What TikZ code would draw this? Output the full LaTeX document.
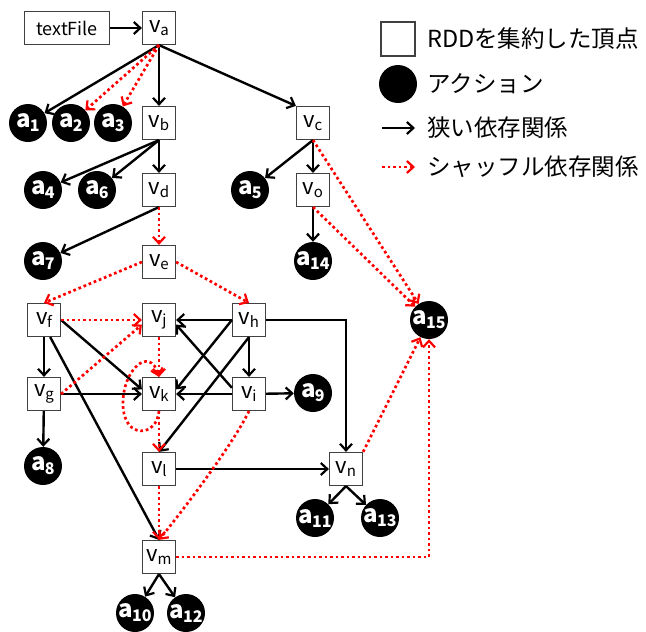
\documentclass[tikz,border=0pt]{standalone}
\usepackage{fontspec}
\setmainfont{Noto Sans CJK JP}
\usetikzlibrary{arrows.meta}
\newcommand{\VN}[1]{{\fontsize{22}{22}\selectfont v}\kern-0.5pt{\fontsize{15}{15}\selectfont\raisebox{-3.5pt}{#1}}}
\newcommand{\AN}[1]{{\bfseries\fontsize{24}{24}\selectfont a}\kern-1pt{\bfseries\fontsize{16}{16}\selectfont\raisebox{-4pt}{#1}}}
\tikzset{
  vtx/.style={draw=black!75, line width=1.2pt, fill=white, minimum width=33pt, minimum height=33pt, inner sep=0pt},
  act/.style={circle, fill=black, minimum size=38pt, inner sep=0pt, text=white},
  nar/.style={line width=2.4pt, -{Straight Barb[length=6.5pt,width=12pt,line width=2.2pt]}},
  shf/.style={red, line width=2.7pt, dash pattern=on 2.7pt off 2.8pt, -{Straight Barb[length=6.5pt,width=12pt,line width=2.2pt]}},
  leg/.style={anchor=west, inner sep=0pt, font=\fontsize{23.5}{23.5}\selectfont}
}
\begin{document}
\begin{tikzpicture}[x=1pt,y=-1pt]
\useasboundingbox (0,0) rectangle (646,632);
% nodes
\node[vtx, minimum width=85pt, font=\fontsize{18}{18}\selectfont] (tf) at (67,28) {textFile};
\node[vtx] (va) at (159,28) {\VN{a}};
\node[act] (a1) at (28,123) {\AN{1}};
\node[act] (a2) at (71,123) {\AN{2}};
\node[act] (a3) at (113,123) {\AN{3}};
\node[vtx] (vb) at (159,123) {\VN{b}};
\node[vtx] (vc) at (313,123) {\VN{c}};
\node[act] (a4) at (43,190) {\AN{4}};
\node[act] (a6) at (97,190) {\AN{6}};
\node[vtx] (vd) at (159,190) {\VN{d}};
\node[act] (a5) at (250,190) {\AN{5}};
\node[vtx] (vo) at (313,190) {\VN{o}};
\node[act] (a7) at (43,261) {\AN{7}};
\node[vtx] (ve) at (159,262) {\VN{e}};
\node[act] (a14) at (313,261) {\AN{14}};
\node[vtx] (vf) at (44,320) {\VN{f}};
\node[vtx] (vj) at (159,320) {\VN{j}};
\node[vtx] (vh) at (249,320) {\VN{h}};
\node[act] (a15) at (429,320) {\AN{15}};
\node[vtx] (vg) at (44,394) {\VN{g}};
\node[vtx] (vk) at (159,394) {\VN{k}};
\node[vtx] (vi) at (249,394) {\VN{i}};
\node[act] (a9) at (313,393) {\AN{9}};
\node[act] (a8) at (43,466) {\AN{8}};
\node[vtx] (vl) at (159,469) {\VN{l}};
\node[vtx] (vn) at (346,469) {\VN{n}};
\node[act] (a11) at (315,518) {\AN{11}};
\node[act] (a13) at (380,518) {\AN{13}};
\node[vtx] (vm) at (159,557) {\VN{m}};
\node[act] (a10) at (135,613) {\AN{10}};
\node[act] (a12) at (186,613) {\AN{12}};
% narrow edges
\draw[nar] (tf) -- (va);
\draw[nar] (va.south) -- (a1);
\draw[nar] (va.south) -- (vb);
\draw[nar] (va.south) -- (vc.north west);
\draw[nar] (vb.south) -- (a4);
\draw[nar] (vb.south) -- (a6);
\draw[nar] (vb) -- (vd);
\draw[nar] (vc.south) -- (a5);
\draw[nar] (vc) -- (vo);
\draw[nar] (vo) -- (a14);
\draw[nar] (vd.south) -- (a7);
\draw[nar] (vf) -- (vg);
\draw[nar] (vg) -- (a8);
\draw[nar] (vf.east) -- (vk.165);
\draw[nar] (vg) -- (vk);
\draw[nar] (vf.290) -- (vm.north);
\draw[nar] (vh) -- (vj);
\draw[nar] (vh.west) -- (vk.15);
\draw[nar] (vi.160) -- (vj.-15);
\draw[nar] (vh.south) -- (vl.north);
\draw[nar] (vh) -- (vi);
\draw[nar] (vi) -- (vk);
\draw[nar] (vi) -- (a9);
\draw[nar] (vh.east) -| (vn.north);
\draw[nar] (vl) -- (vn);
\draw[nar] (vn.south) -- (a11);
\draw[nar] (vn.south) -- (a13);
\draw[nar] (vm.south) -- (a10);
\draw[nar] (vm.south) -- (a12);
% shuffle edges
\draw[shf] (va.south) -- (a2);
\draw[shf] (va.south) -- (a3);
\draw[shf] (vd) -- (ve);
\draw[shf] (ve.west) -- (vf.north);
\draw[shf] (ve.east) -- (vh.north);
\draw[shf] (vf) -- (vj);
\draw[shf] (vg.east) -- (vj.195);
\draw[shf] (vj) -- (vk);
\draw[shf] (vk.south) .. controls (157,437) and (124,440) .. (123,405) .. controls (122,370) and (150,345) .. (vk.north);
\draw[shf] (vk) -- (vl);
\draw[shf] (vl) -- (vm);
\draw[shf] (vi.south) .. controls (235,440) and (195,495) .. (vm.north);
\draw[shf] (vc.south) -- (a15);
\draw[shf] (vo.south) -- (a15);
\draw[shf] (vn.north east) -- (a15);
\draw[shf] (vm.east) -| (a15.south);
% legend
\node[vtx, minimum size=34pt] (lbox) at (398,39) {};
\node[leg] (lt1) at (427,39) {RDDを集約した頂点};
\node[act] (lcirc) at (398,84) {};
\node[leg] (lt2) at (427,84) {アクション};
\coordinate (lna) at (382,128);
\coordinate (lnb) at (415,128);
\draw[nar] (lna) -- (lnb);
\node[leg] (lt3) at (427,128) {狭い依存関係};
\coordinate (lsa) at (382,167);
\coordinate (lsb) at (415,167);
\draw[shf] (lsa) -- (lsb);
\node[leg] (lt4) at (427,167) {シャッフル依存関係};
\end{tikzpicture}
\end{document}
